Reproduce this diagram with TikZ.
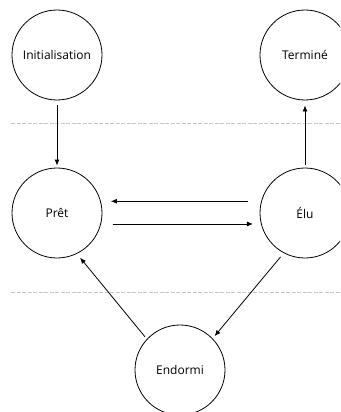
\documentclass[tikz,border=0pt]{standalone}
\usepackage{fontspec}
\setmainfont{Open Sans}
\usetikzlibrary{arrows.meta}

\begin{document}
\begin{tikzpicture}[x=1pt, y=-1pt,
    state/.style={circle, draw, line width=0.8pt, minimum size=90pt, inner sep=0pt, font=\fontsize{12}{14}\selectfont},
    trans/.style={line width=0.8pt, -{Latex[length=6pt,width=5pt]}},
    sep/.style={gray!45, line width=0.8pt, dash pattern=on 4pt off 1.5pt}]
    \useasboundingbox (0,0) rectangle (340,412);
    \clip (0,0) rectangle (340,412);

    % Draw the separating lines
    \coordinate (s1a) at (11,123);
    \coordinate (s1b) at (340,123);
    \coordinate (s2a) at (11,292);
    \coordinate (s2b) at (340,292);
    \draw[sep] (s1a) -- (s1b);
    \draw[sep] (s2a) -- (s2b);

    % Draw the states
    \node[state] (init) at (57,55) {Initialisation};
    \node[state] (term) at (305,55) {Terminé};
    \node[state] (pret) at (57,213) {Prêt};
    \node[state] (elu) at (305,213) {Élu};
    \node[state] (endo) at (180,370) {Endormi};

    % Draw the transitions
    \draw[trans, shorten <=5pt, shorten >=2pt] (init) -- (pret);
    \draw[trans, shorten <=3pt, shorten >=5pt] (elu) -- (term);
    \draw[trans, shorten <=13pt, shorten >=10pt] (elu.165) -- (pret.15);
    \draw[trans, shorten <=12pt, shorten >=8pt] (pret.-14) -- (elu.194);
    \draw[trans, shorten <=3pt, shorten >=5pt] (endo.137) -- (pret.-64);
    \draw[trans, shorten <=5pt, shorten >=3pt] (elu.242) -- (endo.44);
\end{tikzpicture}
\end{document}
